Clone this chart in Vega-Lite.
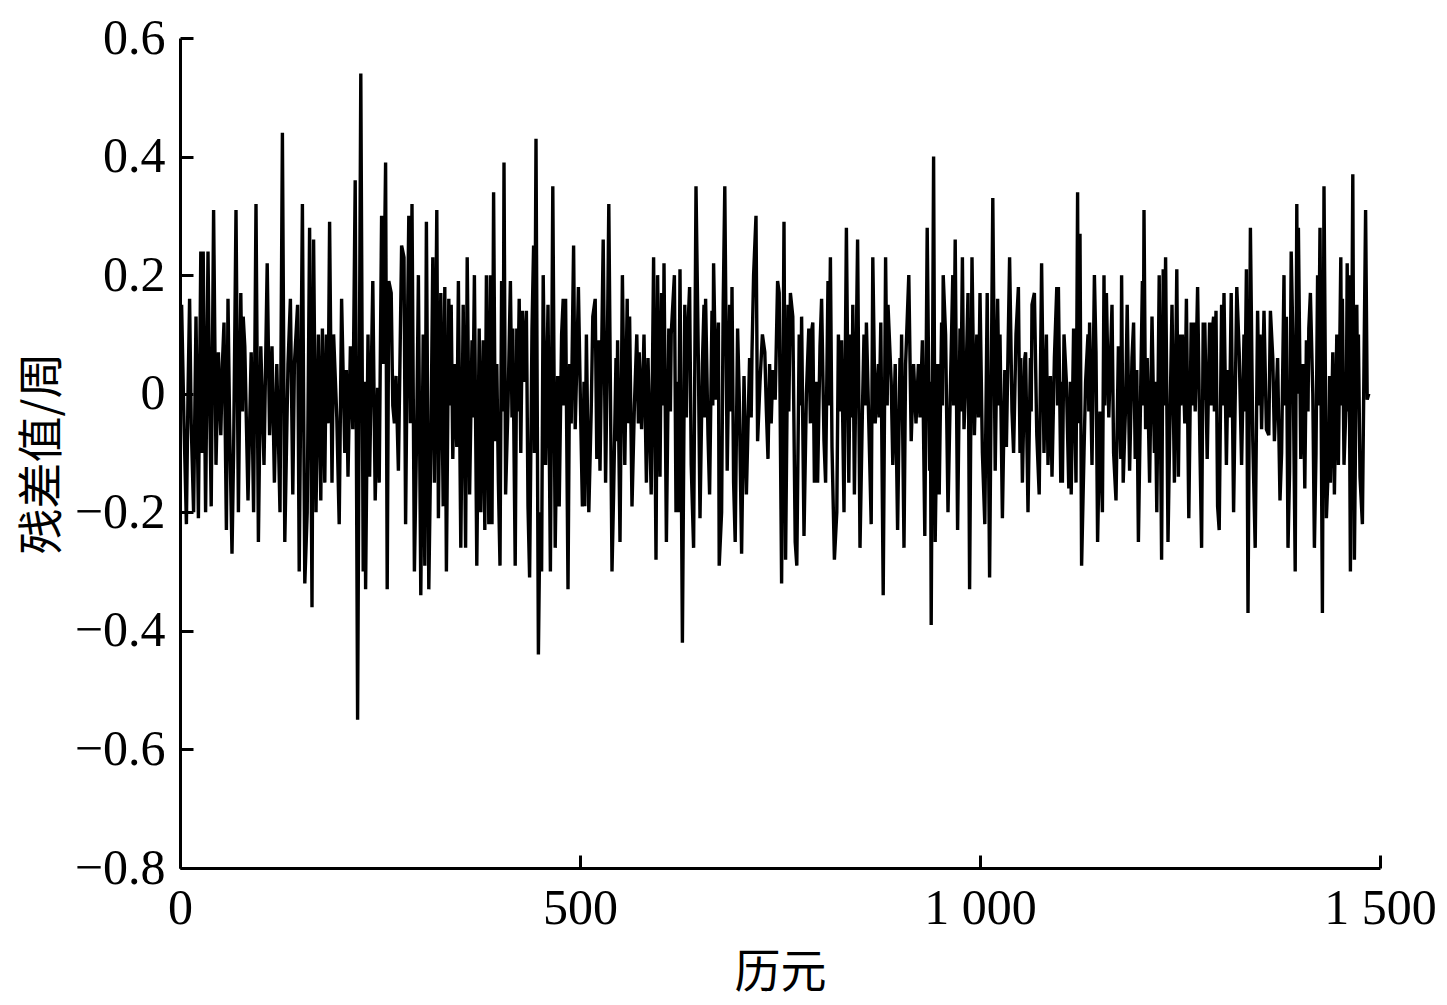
{
"$schema":"https://vega.github.io/schema/vega-lite/v6.json",
"width":1200,"height":830,
"autosize":{"type":"none"},
"padding":{"left":180,"top":38,"right":67,"bottom":137},
"background":"white",
"config":{"view":{"stroke":null},"font":"Liberation Serif"},
"data":{"values":[
{"e":0,"v":0.02},{"e":2,"v":0.15},{"e":5,"v":-0.05},{"e":8,"v":-0.22},{"e":10,"v":0.0},{"e":12,"v":0.16},{"e":14,"v":-0.05},{"e":17,"v":-0.2},{"e":20,"v":0.13},{"e":23,"v":-0.21},{"e":26,"v":0.24},{"e":28,"v":-0.1},{"e":29,"v":0.24},{"e":32,"v":-0.2},{"e":35,"v":0.24},{"e":37,"v":0.0},{"e":39,"v":-0.19},{"e":42,"v":0.31},{"e":45,"v":-0.12},{"e":48,"v":0.07},{"e":51,"v":-0.07},{"e":53,"v":0.05},{"e":55,"v":0.12},{"e":58,"v":-0.23},{"e":60,"v":0.16},{"e":62,"v":-0.05},{"e":65,"v":-0.27},{"e":67,"v":-0.1},{"e":70,"v":0.31},{"e":73,"v":-0.2},{"e":76,"v":0.17},{"e":78,"v":-0.03},{"e":79,"v":0.13},{"e":81,"v":0.08},{"e":85,"v":-0.18},{"e":89,"v":0.07},{"e":92,"v":-0.2},{"e":95,"v":0.32},{"e":98,"v":-0.25},{"e":101,"v":0.08},{"e":105,"v":-0.12},{"e":109,"v":0.22},{"e":112,"v":-0.07},{"e":115,"v":0.08},{"e":118,"v":-0.15},{"e":121,"v":0.05},{"e":125,"v":-0.2},{"e":128,"v":0.44},{"e":131,"v":-0.25},
{"e":133,"v":-0.1},{"e":135,"v":0.05},{"e":138,"v":0.16},{"e":141,"v":-0.17},{"e":143,"v":0.05},{"e":147,"v":0.15},{"e":149,"v":-0.3},{"e":153,"v":0.32},{"e":156,"v":-0.32},{"e":159,"v":-0.2},{"e":162,"v":0.28},{"e":165,"v":-0.36},{"e":167,"v":0.26},{"e":170,"v":-0.2},{"e":173,"v":0.1},{"e":176,"v":-0.18},{"e":178,"v":0.11},{"e":181,"v":-0.15},{"e":183,"v":0.1},{"e":185,"v":-0.05},{"e":187,"v":0.29},{"e":190,"v":-0.15},{"e":192,"v":0.1},{"e":196,"v":-0.04},{"e":199,"v":-0.22},{"e":202,"v":0.16},{"e":206,"v":-0.1},{"e":208,"v":0.04},{"e":210,"v":-0.14},{"e":213,"v":0.08},{"e":216,"v":-0.06},{"e":219,"v":0.36},{"e":222,"v":-0.55},{"e":226,"v":0.54},{"e":229,"v":-0.3},{"e":231,"v":0.02},{"e":232,"v":-0.33},{"e":235,"v":0.1},{"e":237,"v":-0.14},{"e":241,"v":0.19},{"e":244,"v":-0.18},{"e":247,"v":0.01},{"e":249,"v":-0.15},{"e":252,"v":0.3},{"e":254,"v":0.05},{"e":257,"v":0.39},{"e":259,"v":-0.33},{"e":261,"v":0.19},
{"e":264,"v":0.17},{"e":266,"v":-0.02},{"e":268,"v":-0.05},{"e":270,"v":0.03},{"e":273,"v":-0.13},{"e":277,"v":0.25},{"e":280,"v":0.23},{"e":282,"v":-0.22},{"e":284,"v":0.07},{"e":286,"v":0.3},{"e":288,"v":-0.05},{"e":290,"v":0.32},{"e":293,"v":-0.3},{"e":296,"v":-0.05},{"e":298,"v":0.2},{"e":301,"v":-0.34},{"e":304,"v":0.1},{"e":306,"v":-0.29},{"e":308,"v":0.29},{"e":311,"v":-0.33},{"e":314,"v":-0.04},{"e":316,"v":0.23},{"e":318,"v":-0.15},{"e":321,"v":0.31},{"e":323,"v":-0.21},{"e":326,"v":0.17},{"e":329,"v":-0.19},{"e":331,"v":0.18},{"e":333,"v":-0.3},{"e":336,"v":0.16},{"e":338,"v":-0.02},{"e":339,"v":0.15},{"e":341,"v":-0.11},{"e":343,"v":0.05},{"e":346,"v":-0.09},{"e":348,"v":0.19},{"e":351,"v":-0.26},{"e":354,"v":0.15},{"e":357,"v":-0.26},{"e":359,"v":0.23},{"e":362,"v":-0.17},{"e":365,"v":0.09},{"e":366,"v":-0.04},{"e":368,"v":0.2},{"e":371,"v":-0.29},{"e":374,"v":0.11},{"e":376,"v":-0.2},{"e":379,"v":0.09},{"e":381,"v":-0.23},{"e":383,"v":0.2},{"e":386,"v":-0.22},{"e":388,"v":0.2},{"e":390,"v":-0.22},{"e":392,"v":0.34},
{"e":394,"v":-0.08},{"e":396,"v":0.05},{"e":398,"v":-0.15},{"e":400,"v":-0.29},{"e":402,"v":0.19},{"e":404,"v":-0.03},{"e":405,"v":0.39},{"e":407,"v":-0.17},{"e":410,"v":-0.02},{"e":413,"v":0.19},{"e":415,"v":-0.04},{"e":416,"v":0.11},{"e":419,"v":-0.29},{"e":421,"v":0.11},{"e":422,"v":-0.03},{"e":424,"v":0.16},{"e":426,"v":-0.1},{"e":428,"v":0.14},{"e":430,"v":0.02},{"e":433,"v":0.14},{"e":435,"v":-0.19},{"e":437,"v":-0.31},{"e":440,"v":0.11},{"e":442,"v":0.25},{"e":443,"v":-0.1},{"e":445,"v":0.43},{"e":448,"v":-0.44},{"e":450,"v":-0.2},{"e":452,"v":-0.3},{"e":454,"v":0.2},{"e":457,"v":-0.12},{"e":460,"v":0.15},{"e":463,"v":-0.3},{"e":466,"v":0.35},{"e":469,"v":-0.26},{"e":472,"v":0.03},{"e":474,"v":-0.19},{"e":477,"v":0.1},{"e":479,"v":0.16},{"e":480,"v":-0.02},{"e":482,"v":0.16},{"e":485,"v":-0.33},{"e":487,"v":0.05},{"e":489,"v":-0.05},{"e":492,"v":0.25},{"e":494,"v":-0.06},{"e":496,"v":0.05},{"e":498,"v":0.18},{"e":501,"v":-0.05},{"e":503,"v":-0.19},{"e":505,"v":0.02},{"e":506,"v":-0.19},{"e":508,"v":0.1},{"e":511,"v":-0.2},{"e":514,"v":-0.03},{"e":516,"v":0.13},{"e":519,"v":0.16},
{"e":521,"v":-0.11},{"e":523,"v":0.09},{"e":525,"v":-0.13},{"e":529,"v":0.26},{"e":532,"v":-0.15},{"e":534,"v":0.05},{"e":536,"v":0.32},{"e":540,"v":-0.3},{"e":542,"v":-0.17},{"e":545,"v":0.06},{"e":546,"v":-0.08},{"e":547,"v":0.09},{"e":550,"v":-0.25},{"e":553,"v":0.2},{"e":556,"v":-0.12},{"e":559,"v":0.16},{"e":560,"v":-0.05},{"e":562,"v":0.13},{"e":565,"v":-0.19},{"e":568,"v":-0.02},{"e":571,"v":0.1},{"e":573,"v":-0.05},{"e":574,"v":0.07},{"e":577,"v":-0.06},{"e":580,"v":0.1},{"e":583,"v":-0.15},{"e":585,"v":0.06},{"e":589,"v":-0.17},{"e":592,"v":0.23},{"e":595,"v":-0.28},{"e":597,"v":0.2},{"e":600,"v":-0.14},{"e":602,"v":0.17},{"e":604,"v":-0.02},{"e":605,"v":0.22},{"e":608,"v":-0.25},{"e":611,"v":0.11},{"e":613,"v":-0.03},{"e":614,"v":0.1},{"e":618,"v":0.2},{"e":620,"v":-0.2},{"e":622,"v":0.02},{"e":623,"v":-0.2},{"e":625,"v":0.21},{"e":628,"v":-0.42},{"e":631,"v":0.15},{"e":633,"v":-0.04},{"e":634,"v":0.08},{"e":637,"v":0.18},{"e":639,"v":-0.12},{"e":642,"v":-0.26},{"e":645,"v":0.35},{"e":648,"v":0.05},{"e":650,"v":-0.21},
{"e":653,"v":0.05},{"e":655,"v":0.15},{"e":656,"v":-0.04},{"e":657,"v":0.16},{"e":660,"v":-0.07},{"e":662,"v":-0.17},{"e":665,"v":0.14},{"e":666,"v":-0.02},{"e":667,"v":0.22},{"e":670,"v":-0.01},{"e":673,"v":0.12},{"e":674,"v":-0.29},{"e":677,"v":-0.2},{"e":679,"v":0.15},{"e":681,"v":0.35},{"e":684,"v":-0.13},{"e":687,"v":0.15},{"e":689,"v":-0.03},{"e":690,"v":0.18},{"e":692,"v":-0.15},{"e":694,"v":-0.25},{"e":697,"v":0.11},{"e":699,"v":0.0},{"e":702,"v":-0.27},{"e":705,"v":0.03},{"e":708,"v":-0.17},{"e":712,"v":0.06},{"e":714,"v":-0.04},{"e":715,"v":0.07},{"e":717,"v":0.2},{"e":720,"v":0.3},{"e":722,"v":-0.08},{"e":725,"v":0.02},{"e":728,"v":0.1},{"e":731,"v":0.07},{"e":733,"v":-0.03},{"e":735,"v":-0.11},{"e":737,"v":0.05},{"e":739,"v":-0.05},{"e":741,"v":0.04},{"e":744,"v":-0.01},{"e":747,"v":0.19},{"e":749,"v":0.17},{"e":752,"v":-0.32},{"e":755,"v":0.29},{"e":757,"v":-0.28},{"e":760,"v":0.15},{"e":761,"v":-0.03},{"e":763,"v":0.17},{"e":766,"v":0.13},{"e":769,"v":-0.25},{"e":771,"v":-0.29},{"e":774,"v":0.1},{"e":776,"v":-0.02},{"e":777,"v":0.13},{"e":780,"v":-0.24},
{"e":783,"v":0.0},{"e":786,"v":0.11},{"e":788,"v":-0.05},{"e":789,"v":0.1},{"e":791,"v":0.12},{"e":793,"v":-0.15},{"e":795,"v":0.02},{"e":797,"v":-0.15},{"e":800,"v":0.08},{"e":802,"v":0.16},{"e":805,"v":-0.08},{"e":807,"v":-0.15},{"e":810,"v":0.19},{"e":811,"v":-0.02},{"e":813,"v":0.23},{"e":815,"v":-0.09},{"e":818,"v":-0.28},{"e":821,"v":-0.2},{"e":823,"v":0.1},{"e":825,"v":-0.03},{"e":827,"v":0.09},{"e":830,"v":-0.2},{"e":833,"v":0.28},{"e":836,"v":-0.15},{"e":838,"v":0.1},{"e":840,"v":-0.04},{"e":841,"v":0.15},{"e":843,"v":-0.17},{"e":847,"v":0.26},{"e":850,"v":-0.26},{"e":853,"v":-0.03},{"e":855,"v":0.1},{"e":857,"v":-0.02},{"e":858,"v":0.12},{"e":861,"v":-0.05},{"e":864,"v":-0.22},{"e":866,"v":0.23},{"e":869,"v":-0.05},{"e":873,"v":0.05},{"e":874,"v":-0.04},{"e":876,"v":0.12},{"e":879,"v":-0.34},{"e":882,"v":0.23},{"e":884,"v":-0.02},{"e":885,"v":0.15},{"e":889,"v":0.02},{"e":891,"v":-0.12},{"e":894,"v":0.05},{"e":897,"v":-0.23},{"e":900,"v":0.06},{"e":901,"v":-0.03},{"e":902,"v":0.1},{"e":905,"v":-0.26},{"e":907,"v":0.05},{"e":911,"v":0.2},
{"e":914,"v":-0.08},{"e":917,"v":0.05},{"e":920,"v":-0.05},{"e":923,"v":0.05},{"e":925,"v":-0.04},{"e":928,"v":0.09},{"e":931,"v":-0.24},{"e":934,"v":0.28},{"e":937,"v":-0.13},{"e":938,"v":0.02},{"e":939,"v":-0.39},{"e":942,"v":0.4},{"e":944,"v":-0.25},{"e":947,"v":0.05},{"e":949,"v":-0.17},{"e":952,"v":0.12},{"e":953,"v":-0.02},{"e":954,"v":0.2},{"e":957,"v":0.1},{"e":960,"v":-0.2},{"e":963,"v":0.01},{"e":966,"v":0.2},{"e":967,"v":-0.02},{"e":969,"v":0.26},{"e":972,"v":-0.23},{"e":975,"v":0.11},{"e":976,"v":-0.03},{"e":978,"v":0.23},{"e":980,"v":-0.06},{"e":983,"v":0.05},{"e":985,"v":0.17},{"e":987,"v":-0.33},{"e":990,"v":0.23},{"e":993,"v":-0.07},{"e":996,"v":0.1},{"e":998,"v":-0.04},{"e":1000,"v":0.17},{"e":1003,"v":-0.1},{"e":1006,"v":-0.22},{"e":1009,"v":0.17},{"e":1012,"v":-0.31},{"e":1016,"v":0.33},{"e":1019,"v":-0.13},{"e":1022,"v":0.16},{"e":1024,"v":-0.02},{"e":1025,"v":0.1},{"e":1028,"v":-0.21},{"e":1031,"v":0.04},{"e":1033,"v":-0.09},{"e":1037,"v":0.23},{"e":1040,"v":-0.03},{"e":1042,"v":-0.1},{"e":1045,"v":0.1},{"e":1048,"v":0.18},
{"e":1050,"v":-0.1},{"e":1051,"v":0.06},{"e":1053,"v":-0.15},{"e":1056,"v":0.06},{"e":1057,"v":0.07},{"e":1060,"v":-0.2},{"e":1063,"v":0.06},{"e":1064,"v":-0.03},{"e":1065,"v":0.15},{"e":1068,"v":0.17},{"e":1071,"v":-0.07},{"e":1074,"v":-0.17},{"e":1077,"v":0.22},{"e":1080,"v":-0.1},{"e":1083,"v":0.1},{"e":1085,"v":-0.12},{"e":1088,"v":0.03},{"e":1090,"v":-0.14},{"e":1093,"v":0.06},{"e":1096,"v":0.18},{"e":1097,"v":-0.02},{"e":1098,"v":0.18},{"e":1101,"v":-0.15},{"e":1102,"v":0.02},{"e":1103,"v":-0.15},{"e":1105,"v":0.1},{"e":1108,"v":0.02},{"e":1111,"v":-0.16},{"e":1113,"v":0.02},{"e":1114,"v":-0.17},{"e":1117,"v":0.11},{"e":1120,"v":-0.15},{"e":1122,"v":0.34},{"e":1123,"v":-0.05},{"e":1125,"v":0.27},{"e":1127,"v":-0.29},{"e":1130,"v":-0.1},{"e":1132,"v":0.02},{"e":1135,"v":0.1},{"e":1136,"v":-0.03},{"e":1137,"v":0.12},{"e":1140,"v":-0.12},{"e":1143,"v":0.2},{"e":1145,"v":0.07},{"e":1147,"v":-0.25},{"e":1150,"v":-0.03},{"e":1153,"v":-0.2},{"e":1155,"v":0.2},{"e":1156,"v":-0.02},{"e":1158,"v":0.17},{"e":1161,"v":-0.04},{"e":1165,"v":0.15},{"e":1167,"v":-0.1},{"e":1170,"v":-0.18},{"e":1173,"v":0.08},{"e":1176,"v":-0.11},{"e":1177,"v":0.2},
{"e":1179,"v":-0.15},{"e":1182,"v":-0.02},{"e":1184,"v":0.15},{"e":1187,"v":-0.13},{"e":1190,"v":0.06},{"e":1192,"v":0.12},{"e":1194,"v":-0.11},{"e":1196,"v":0.04},{"e":1198,"v":-0.25},{"e":1201,"v":0.02},{"e":1203,"v":0.19},{"e":1204,"v":-0.02},{"e":1205,"v":0.31},{"e":1207,"v":-0.06},{"e":1209,"v":0.06},{"e":1212,"v":-0.15},{"e":1215,"v":0.13},{"e":1218,"v":-0.1},{"e":1219,"v":0.02},{"e":1221,"v":-0.2},{"e":1224,"v":0.2},{"e":1227,"v":-0.28},{"e":1229,"v":0.21},{"e":1230,"v":-0.02},{"e":1232,"v":0.23},{"e":1235,"v":-0.25},{"e":1237,"v":-0.08},{"e":1240,"v":0.15},{"e":1243,"v":-0.15},{"e":1246,"v":0.21},{"e":1248,"v":-0.14},{"e":1250,"v":0.1},{"e":1251,"v":-0.02},{"e":1253,"v":0.1},{"e":1256,"v":-0.05},{"e":1258,"v":0.16},{"e":1261,"v":-0.21},{"e":1264,"v":0.12},{"e":1265,"v":-0.02},{"e":1267,"v":0.12},{"e":1269,"v":-0.03},{"e":1272,"v":0.18},{"e":1275,"v":-0.1},{"e":1277,"v":-0.26},{"e":1279,"v":0.12},{"e":1280,"v":-0.01},{"e":1281,"v":0.12},{"e":1284,"v":-0.11},{"e":1287,"v":0.12},{"e":1289,"v":-0.02},{"e":1290,"v":0.1},{"e":1292,"v":0.13},{"e":1293,"v":-0.03},{"e":1295,"v":0.14},{"e":1297,"v":-0.19},{"e":1299,"v":-0.23},{"e":1302,"v":0.15},{"e":1303,"v":-0.02},{"e":1305,"v":0.17},
{"e":1308,"v":-0.12},{"e":1310,"v":0.04},{"e":1312,"v":-0.04},{"e":1314,"v":0.17},{"e":1317,"v":-0.2},{"e":1321,"v":0.18},{"e":1324,"v":0.07},{"e":1327,"v":-0.12},{"e":1330,"v":0.1},{"e":1331,"v":-0.03},{"e":1333,"v":0.21},{"e":1335,"v":-0.37},{"e":1338,"v":0.28},{"e":1341,"v":-0.08},{"e":1344,"v":-0.26},{"e":1347,"v":0.14},{"e":1349,"v":-0.02},{"e":1350,"v":0.1},{"e":1352,"v":-0.06},{"e":1355,"v":0.14},{"e":1358,"v":-0.06},{"e":1361,"v":-0.07},{"e":1363,"v":0.14},{"e":1366,"v":0.06},{"e":1368,"v":-0.08},{"e":1372,"v":0.06},{"e":1375,"v":-0.18},{"e":1377,"v":-0.1},{"e":1380,"v":0.2},{"e":1381,"v":-0.02},{"e":1383,"v":0.13},{"e":1385,"v":-0.26},{"e":1387,"v":-0.13},{"e":1389,"v":0.24},{"e":1391,"v":0.1},{"e":1394,"v":-0.3},{"e":1396,"v":0.32},{"e":1397,"v":0.0},{"e":1398,"v":0.28},{"e":1401,"v":-0.11},{"e":1404,"v":0.05},{"e":1406,"v":-0.16},{"e":1408,"v":0.09},{"e":1410,"v":-0.03},{"e":1411,"v":0.11},{"e":1413,"v":0.17},{"e":1416,"v":0.0},{"e":1418,"v":-0.26},{"e":1420,"v":-0.1},{"e":1422,"v":0.2},{"e":1423,"v":-0.02},{"e":1425,"v":0.28},{"e":1428,"v":-0.37},{"e":1430,"v":0.35},{"e":1433,"v":-0.21},{"e":1436,"v":-0.1},{"e":1437,"v":0.03},{"e":1438,"v":-0.15},{"e":1441,"v":0.07},{"e":1443,"v":-0.17},{"e":1446,"v":0.1},{"e":1448,"v":-0.12},{"e":1451,"v":0.23},{"e":1452,"v":-0.02},{"e":1453,"v":0.16},{"e":1455,"v":-0.12},{"e":1458,"v":0.0},{"e":1459,"v":0.22},{"e":1460,"v":-0.03},{"e":1461,"v":0.2},{"e":1463,"v":-0.3},{"e":1466,"v":0.37},{"e":1468,"v":-0.28},{"e":1471,"v":0.15},{"e":1472,"v":-0.02},{"e":1473,"v":0.1},{"e":1475,"v":-0.14},{"e":1478,"v":-0.22},{"e":1480,"v":0.05},{"e":1482,"v":0.31},{"e":1484,"v":-0.01},{"e":1486,"v":0.0}
]},
"mark":{"type":"line","color":"black","strokeWidth":3.4,"strokeJoin":"miter","strokeMiterLimit":2,"clip":true},
"encoding":{
"x":{"field":"e","type":"quantitative","scale":{"domain":[0,1500],"nice":false,"zero":false},
"axis":{"title":"历元","values":[0,500,1000,1500],"labelExpr":"replace(format(datum.value, ','), ',', ' ')","grid":false,"domainColor":"black","domainWidth":3,"tickColor":"black","tickWidth":3,"tickSize":-13,"labelFont":"Liberation Serif","labelFontSize":50,"labelColor":"black","labelPadding":28,"labelFlush":false,"labelOverlap":false,"titleFont":"Noto Sans CJK SC","titleFontSize":46,"titleFontWeight":"normal","titleColor":"black","titlePadding":17}},
"y":{"field":"v","type":"quantitative","scale":{"domain":[-0.8,0.6],"nice":false,"zero":false},
"axis":{"title":"残差值/周","values":[-0.8,-0.6,-0.4,-0.2,0,0.2,0.4,0.6],"format":".1~f","grid":false,"domainColor":"black","domainWidth":3,"tickColor":"black","tickWidth":3,"tickSize":-13,"labelFont":"Liberation Serif","labelFontSize":50,"labelColor":"black","labelPadding":28,"labelFlush":false,"labelOverlap":false,"titleFont":"Noto Sans CJK SC","titleFontSize":46,"titleFontWeight":"normal","titleColor":"black","titlePadding":8}}
}
}
